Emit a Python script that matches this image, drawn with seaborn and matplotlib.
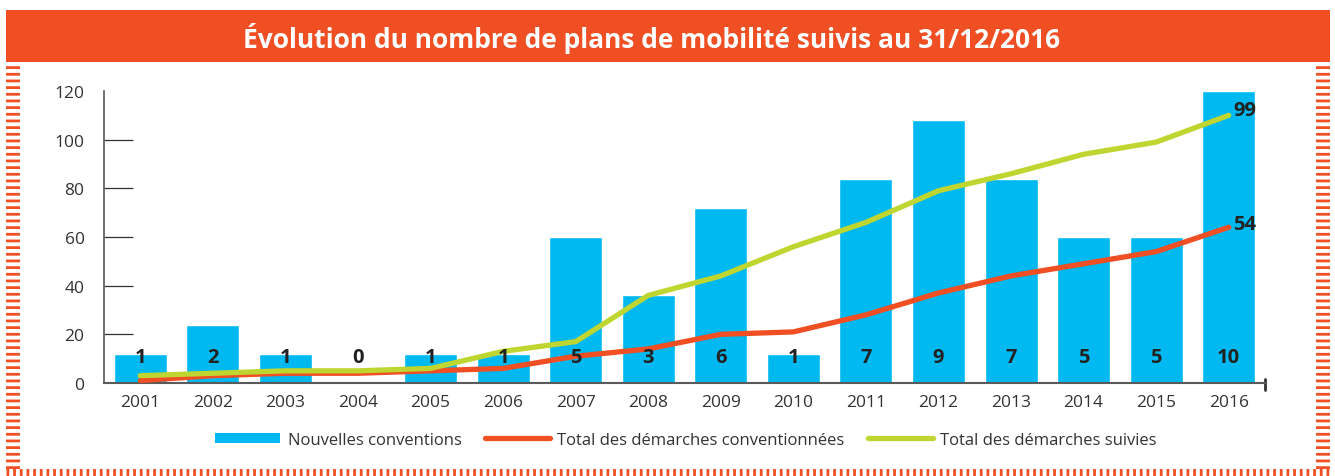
import numpy as np
import pandas as pd
import matplotlib
matplotlib.use("Agg")
import matplotlib.pyplot as plt
import seaborn as sns
from matplotlib.lines import Line2D
from matplotlib.patches import Rectangle
import matplotlib.transforms as mtransforms

# ---- data -------------------------------------------------------------
years = [str(y) for y in range(2001, 2017)]
nouvelles_conventions = [1, 2, 1, 0, 1, 1, 5, 3, 6, 1, 7, 9, 7, 5, 5, 10]
total_conventionnees = [1, 3, 4, 4, 5, 6, 11, 14, 20, 21, 28, 37, 44, 49, 54, 64]
total_suivies = [3, 4, 5, 5, 6, 13, 17, 36, 44, 56, 66, 79, 86, 94, 99, 110]
end_label_conventionnees = "54"
end_label_suivies = "99"

title = "Évolution du nombre de plans de mobilité suivis au 31/12/2016"
legend_labels = ["Nouvelles conventions",
                 "Total des démarches conventionnées",
                 "Total des démarches suivies"]

# ---- style ------------------------------------------------------------
BLUE = "#00B9F1"
RED = "#F04E23"
GREEN = "#BED62F"
ORANGE = "#F04E23"
AXIS = "#5A5A5A"
TEXT = "#333333"

sns.set_theme(style="white")
plt.rcParams["font.family"] = ["Open Sans", "DejaVu Sans"]

W, H = 1335, 477
fig = plt.figure(figsize=(W / 100, H / 100), dpi=100)

def fx(px):
    return px / W

def fy(py):
    return 1 - py / H

# axes area
left, right, top, bottom = 104, 1265, 92, 384
ax = fig.add_axes([fx(left), fy(bottom), fx(right - left), (bottom - top) / H])
ax_lines = ax.twinx()

df = pd.DataFrame({"annee": years,
                   "nouvelles": nouvelles_conventions,
                   "conv": total_conventionnees,
                   "suivies": total_suivies})
df["x"] = np.arange(len(df))

# bars: count of new conventions (0-10 scale, 10 = top of the frame)
sns.barplot(data=df, x="annee", y="nouvelles", color=BLUE, saturation=1,
            width=0.73, ax=ax, zorder=2)
ax.set_ylim(0, 10)
ax.set_xlim(-0.5, len(years) - 0.5)

# cumulative lines on the 0-120 scale
sns.lineplot(data=df, x="x", y="conv", color=RED, lw=3.8, ax=ax_lines,
             solid_capstyle="round", zorder=4)
sns.lineplot(data=df, x="x", y="suivies", color=GREEN, lw=3.8, ax=ax_lines,
             solid_capstyle="round", zorder=4)
ax_lines.set_ylim(0, 120)
ax_lines.set_xlim(-0.5, len(years) - 0.5)

# bar value labels, placed at a common height just above the baseline,
# drawn above the lines
lab_tf = mtransforms.blended_transform_factory(ax_lines.transData, ax_lines.transAxes)
for i, v in enumerate(nouvelles_conventions):
    ax_lines.text(i, 0.089, str(v), transform=lab_tf, ha="center", va="center",
                  fontsize=14.5, fontweight="bold", color="#222222", zorder=6)

last = len(years) - 1
ax_lines.annotate(end_label_conventionnees, (last, total_conventionnees[-1]),
                  xytext=(3, 2.5), textcoords="offset points", ha="left", va="center",
                  fontsize=14.5, fontweight="bold", color="#222222", zorder=6)
ax_lines.annotate(end_label_suivies, (last, total_suivies[-1]),
                  xytext=(3, 3.5), textcoords="offset points", ha="left", va="center",
                  fontsize=14.5, fontweight="bold", color="#222222", zorder=6)

# y axis shown on the left from the line axes
ax.set_yticks([])
ax.set_ylabel("")
ax.set_xlabel("")
ax_lines.yaxis.tick_left()
ax_lines.yaxis.set_label_position("left")
ax_lines.set_yticks([0, 20, 40, 60, 80, 100, 120])
ax_lines.set_yticklabels(["0", "20", "40", "60", "80", "100", "120"])
ax_lines.set_ylabel("")
ax_lines.set_xlabel("")
ax_lines.tick_params(axis="y", direction="in", length=21, width=0.9,
                     color="#333333", pad=14, labelsize=12.5, labelcolor=TEXT)
# hide the inward tick at 0 and 120
ticks = ax_lines.yaxis.get_major_ticks()
ticks[0].tick1line.set_visible(False)
ticks[-1].tick1line.set_visible(False)
ax_lines.set_xticks([])
ax_lines.patch.set_visible(False)

ax.set_xticks(range(len(years)))
ax.set_xticklabels(years)
ax.tick_params(axis="x", which="major", length=0, pad=8, labelsize=12.5,
               labelcolor=TEXT)
ax.set_xticks(np.arange(0.5, len(years) - 1, 1), minor=True)
ax.tick_params(axis="x", which="minor", direction="in", length=5, width=1,
               color=AXIS)

for a in (ax, ax_lines):
    for s in ("top", "right"):
        a.spines[s].set_visible(False)
ax_lines.spines["bottom"].set_visible(False)
ax.spines["left"].set_visible(False)
ax_lines.spines["left"].set_color(AXIS)
ax_lines.spines["left"].set_linewidth(1.2)
ax.spines["bottom"].set_color(AXIS)
ax.spines["bottom"].set_linewidth(1.5)
ax.set_zorder(1)
ax_lines.set_zorder(2)

# closing tick at the end of the x axis
ax.add_line(Line2D([1, 1], [-0.025, 0.015], transform=ax.transAxes,
                   color="#333333", lw=2, clip_on=False))

# ---- legend -------------------------------------------------------------
handles = [Rectangle((0, 0), 1, 1, facecolor=BLUE, edgecolor="none"),
           Line2D([], [], color=RED, lw=3.8, solid_capstyle="round"),
           Line2D([], [], color=GREEN, lw=3.8, solid_capstyle="round")]
leg = fig.legend(handles, legend_labels, loc="center", ncol=3,
                 bbox_to_anchor=(fx(686), fy(441)), frameon=False,
                 fontsize=12, handlelength=3.9, handleheight=0.6,
                 handletextpad=0.45, columnspacing=1.4, labelcolor=TEXT)

# ---- title banner -------------------------------------------------------
fig.add_artist(Rectangle((fx(6), fy(63)), fx(1330 - 6), (63 - 11) / H,
                         transform=fig.transFigure, facecolor=ORANGE,
                         edgecolor="none"))
fig.text(fx(652), fy(38), title, ha="center", va="center", color="white",
         fontsize=19, fontweight="bold")

# ---- dotted frame -------------------------------------------------------
side_dash = (0.2, 0.28)
fig.add_artist(Line2D([fx(13), fx(13)], [fy(470), fy(64)], transform=fig.transFigure,
                      color=ORANGE, lw=10, dashes=side_dash, solid_capstyle="butt"))
fig.add_artist(Line2D([fx(1323), fx(1323)], [fy(470), fy(64)], transform=fig.transFigure,
                      color=ORANGE, lw=10, dashes=side_dash))
fig.add_artist(Line2D([fx(6), fx(1330)], [fy(473), fy(473)], transform=fig.transFigure,
                      color=ORANGE, lw=5, dashes=(0.4, 0.56)))

fig.savefig("out.png", dpi=100, facecolor="white")
